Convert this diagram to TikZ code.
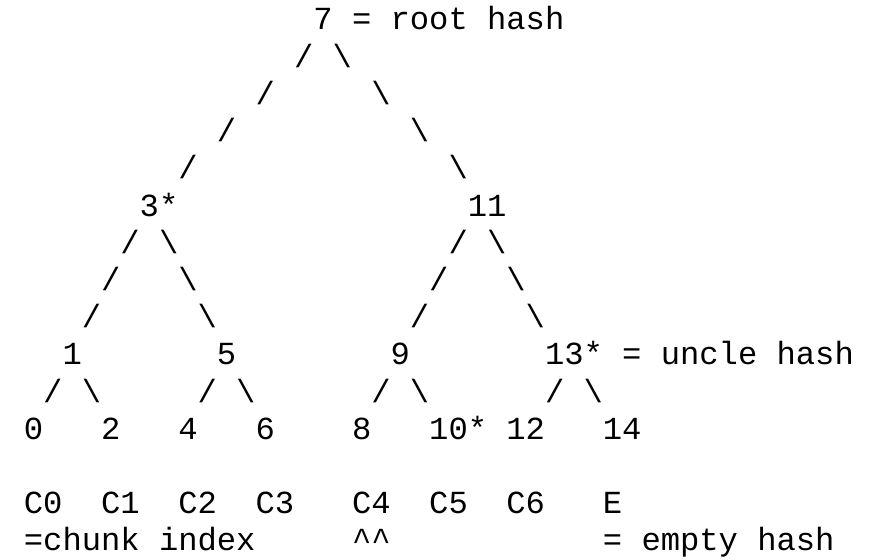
\documentclass[tikz,border=0pt]{standalone}
\usepackage{fontspec}
\newfontfamily\asciimono{Liberation Mono}
\begin{document}
\begin{tikzpicture}[
  x=19.3pt, y=-37.2pt,
  cell/.style={anchor=base west, inner sep=0pt, outer sep=0pt,
    font=\asciimono\fontsize{32.17pt}{37.2pt}\selectfont, text=black},
  hashval/.style={cell},
  edge/.style={cell},
  note/.style={cell}
]
% page frame: column 0 / row 0 baseline is the origin
\useasboundingbox (-23.9pt,30pt) rectangle (845.1pt,-529pt);

% root
\node[hashval] (h7) at (15,0) {7};
\node[note] (lroot) at (17,0) {= root hash};

% long branches from the root
\foreach \r/\cl/\cr in {1/14/16, 2/12/18, 3/10/20, 4/8/22} {
  \node[edge] (bl-\r) at (\cl,\r) {/};
  \node[edge] (br-\r) at (\cr,\r) {\textbackslash};
}

% second level
\node[hashval] (h3) at (6,5) {3*};
\node[hashval] (h11) at (23,5) {11};

\foreach \r/\a/\b/\c/\d in {6/5/7/22/24, 7/4/8/21/25, 8/3/9/20/26} {
  \node[edge] (l3-\r) at (\a,\r) {/};
  \node[edge] (r3-\r) at (\b,\r) {\textbackslash};
  \node[edge] (l11-\r) at (\c,\r) {/};
  \node[edge] (r11-\r) at (\d,\r) {\textbackslash};
}

% third level
\node[hashval] (h1) at (2,9) {1};
\node[hashval] (h5) at (10,9) {5};
\node[hashval] (h9) at (19,9) {9};
\node[hashval] (h13) at (27,9) {13*};
\node[note] (luncle) at (31,9) {= uncle hash};

\foreach \p/\a/\b in {1/1/3, 5/9/11, 9/18/20, 13/27/29} {
  \node[edge] (l\p) at (\a,10) {/};
  \node[edge] (r\p) at (\b,10) {\textbackslash};
}

% leaves
\foreach \v/\c in {0/0, 2/4, 4/8, 6/12, 8/17, 12/25, 14/30} {
  \node[hashval] (h\v) at (\c,11) {\v};
}
\node[hashval] (h10) at (21,11) {10*};

% chunk labels
\foreach \k/\c in {0/0, 1/4, 2/8, 3/12, 4/17, 5/21, 6/25} {
  \node[note] (c\k) at (\c,13) {C\k};
}
\node[note] (cE) at (30,13) {E};

\node[note] (lchunk) at (0,14) {=chunk index};
\node[note] (mark) at (17,14) {\textasciicircum\textasciicircum};
\node[note] (lempty) at (30,14) {= empty hash};
\end{tikzpicture}
\end{document}
